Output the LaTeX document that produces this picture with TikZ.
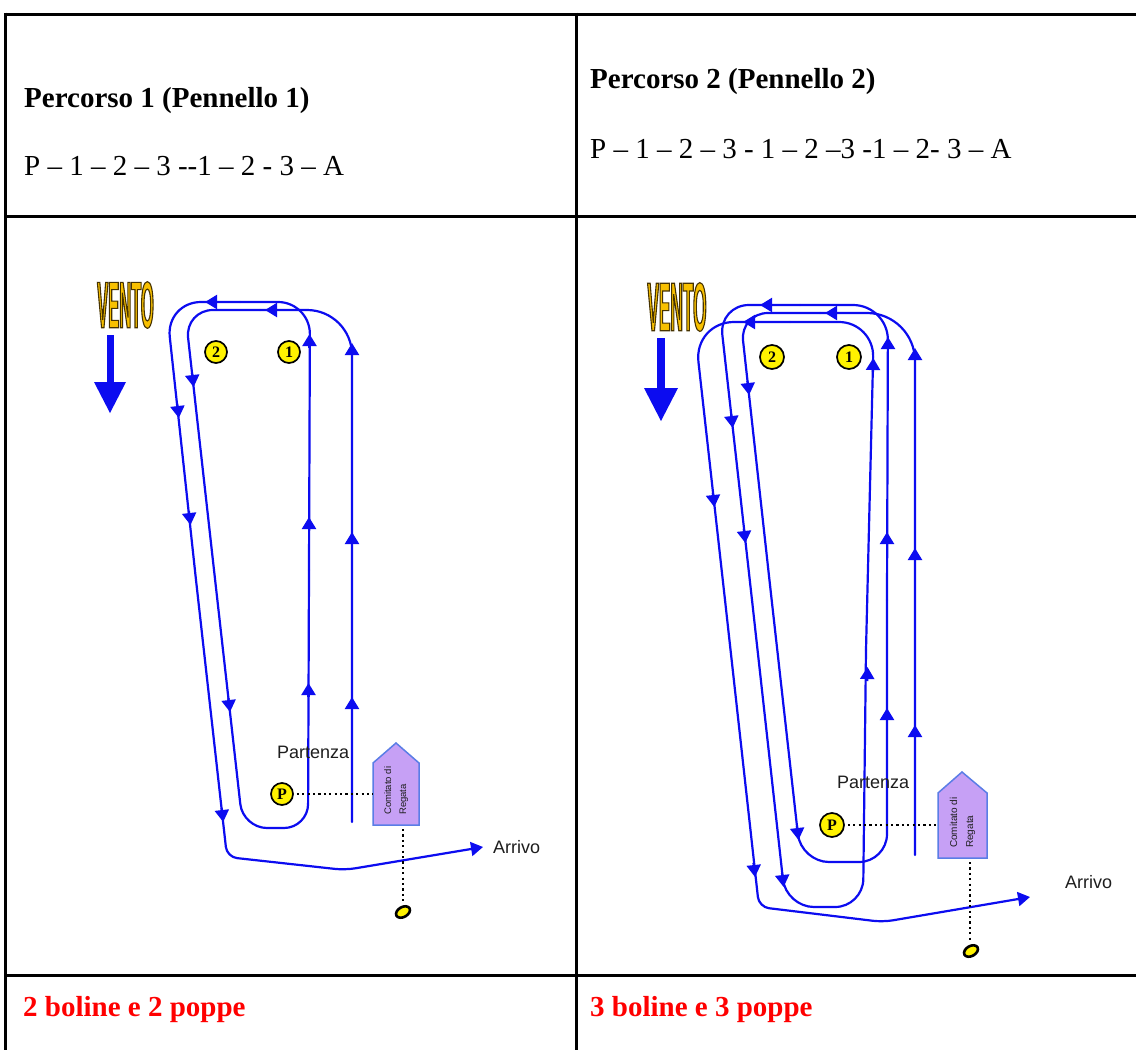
\documentclass[tikz,border=0pt]{standalone}
\usepackage{fontspec}
\setmainfont{Liberation Serif}
\setsansfont{Liberation Sans}
\newfontfamily\ventofont[FakeStretch=0.25]{Liberation Sans Bold}
\usetikzlibrary{arrows.meta}
\definecolor{rblue}{RGB}{12,12,240}
\definecolor{boatfill}{RGB}{198,160,245}
\definecolor{boatedge}{RGB}{90,125,230}
\definecolor{vgold}{RGB}{248,192,0}
\definecolor{txtgray}{RGB}{30,30,30}
\newcommand\ventotxt[1]{{\ventofont\fontsize{#1}{#1}\selectfont\color{vgold}\special{pdf:literal direct 2 Tr 1.1 w 0.28 0.2 0 RG}VENTO\special{pdf:literal direct 0 Tr}}}
\newcommand\tipat[2]{\draw[tipa] #1 -- #2;}
\tikzset{
  course/.style={rblue, line width=2.2pt, line cap=round, line join=round},
  tipa/.style={rblue, line width=2.2pt, -{Triangle[length=12pt,width=14pt]}},
  buoymark/.style={circle, draw=black, line width=1.7pt, fill=yellow, inner sep=0pt, font=\bfseries\fontsize{16}{16}\selectfont},
  dotline/.style={black, line width=2.2pt, dash pattern=on 2.2pt off 3.2pt},
  boat/.style={draw=boatedge, fill=boatfill, line width=1.5pt},
  cell/.style={anchor=base west, inner sep=0pt, font=\fontsize{29}{34}\selectfont},
  lbl/.style={anchor=base west, inner sep=0pt, text=txtgray, font=\sffamily\fontsize{18}{20}\selectfont},
  boattxt/.style={rotate=90, anchor=base west, inner sep=0pt, text=txtgray},
  grid/.style={black, line width=3pt},
  wind/.style={fill=rblue},
}
\begin{document}
\begin{tikzpicture}[x=1pt,y=-1pt]
\fill[white] (0,0) rectangle (1136,1050);
\useasboundingbox (0,0) rectangle (1136,1050);

% ---------------- table ----------------
\draw[grid] (5,14) -- (1136,14);
\draw[grid] (5,216) -- (1136,216);
\draw[grid] (5,975) -- (1136,975);
\draw[grid] (5,12.5) -- (5,1050);
\draw[grid] (576,12.5) -- (576,1050);

\node[cell, font=\bfseries\fontsize{29}{34}\selectfont] (h1) at (24,107) {Percorso 1 (Pennello 1)};
\node[cell] (s1) at (24,175) {P – 1 – 2 – 3 {-}{-}1 – 2 - 3 – A};
\node[cell, font=\bfseries\fontsize{29}{34}\selectfont] (h2) at (590,88) {Percorso 2 (Pennello 2)};
\node[cell] (s2) at (590,158) {P – 1 – 2 – 3 - 1 – 2 –3 -1 – 2- 3 – A};
\node[cell, text=red, font=\bfseries\fontsize{29}{34}\selectfont] (r1) at (23,1016) {2 boline e 2 poppe};
\node[cell, text=red, font=\bfseries\fontsize{29}{34}\selectfont] (r2) at (590,1016) {3 boline e 3 poppe};

% ================= LEFT DIAGRAM =================
\node[inner sep=0pt] (ventoL) at (125.5,305) {\ventotxt{66}};
\fill[wind] (106.5,335) rectangle (113.5,383);
\fill[wind] (94,382) -- (126,382) -- (110,413) -- cycle;

% course
\draw[course, rounded corners=45pt] (352,822) -- (352,310) -- (260,310);
\draw[course, rounded corners=28pt] (260,310) -- (185,310) -- (214,570);
\draw[course, rounded corners=24pt] (214,570) -- (243,828) -- (308,828) -- (309,570);
\draw[course, rounded corners=32pt] (309,570) -- (310,302) -- (240,302);
\draw[course, rounded corners=35pt] (240,302) -- (166,302) -- (196,580);
\draw[course, rounded corners=10pt, -{Triangle[length=12pt,width=14pt]}] (196,580) -- (227,857) -- (345,870) -- (483,847);

% arrow tips
\tipat{(352,357)}{(352,343)}
\tipat{(352,546)}{(352,532)}
\tipat{(352,711)}{(352,697)}
\tipat{(280,310)}{(265,310)}
\tipat{(192.0,373)}{(193.6,387)}
\tipat{(228.4,698)}{(230.0,712)}
\tipat{(308.5,697)}{(308.5,683)}
\tipat{(309,531)}{(309,517)}
\tipat{(309.5,348)}{(309.5,334)}
\tipat{(220,302)}{(205,302)}
\tipat{(177.2,404)}{(178.8,418)}
\tipat{(188.9,511)}{(190.5,525)}
\tipat{(221.6,808)}{(223.2,822)}

\node[buoymark, minimum size=22pt] (m2L) at (216,352) {2};
\node[buoymark, minimum size=22pt] (m1L) at (289,352) {1};
\node[buoymark, minimum size=22pt] (mPL) at (282,794) {P};

\node[lbl] (partL) at (277,758) {Partenza};
\node[lbl] (arrL) at (493,853) {Arrivo};

\draw[boat] (373,825) -- (373,763) -- (396,743) -- (419,763) -- (419,825) -- cycle;
\coordinate (boatLw) at (373,794);
\coordinate (boatLb) at (403,825);
\node[boattxt, font=\sffamily\fontsize{9.5}{10}\selectfont] (cdL) at (391,815) {Comitato di};
\node[boattxt, font=\sffamily\fontsize{9.5}{10}\selectfont] (rgL) at (406,815) {Regata};
\draw[dotline] (mPL.east) ++(3,0) -- (boatLw);
\draw[dotline] (boatLb) ++(0,4) -- (403,902);
\draw[black, line width=2.6pt, fill=yellow, rotate around={30:(403,912)}] (403,912) ellipse (7.5pt and 5pt);

% ================= RIGHT DIAGRAM =================
\node[inner sep=0pt] (ventoR) at (677,307) {\ventotxt{69}};
\fill[wind] (657.3,338) rectangle (664.7,389);
\fill[wind] (644,388) -- (678,388) -- (661,421) -- cycle;

% course
\draw[course, rounded corners=48pt] (915,855) -- (915,313) -- (820,313);
\draw[course, rounded corners=28pt] (820,313) -- (740,313) -- (770,585);
\draw[course, rounded corners=28pt] (770,585) -- (801,862) -- (887,862) -- (887,600);
\draw[course, rounded corners=35pt] (887,600) -- (888,305) -- (800,305);
\draw[course, rounded corners=30pt] (800,305) -- (719,305) -- (752,600);
\draw[course, rounded corners=28pt] (752,600) -- (786,907) -- (863,907) -- (866,650);
\draw[course, rounded corners=35pt] (866,650) -- (874,322) -- (790,322);
\draw[course, rounded corners=40pt] (790,322) -- (694,322) -- (725,600);
\draw[course, rounded corners=10pt, -{Triangle[length=12pt,width=14pt]}] (725,600) -- (759,907) -- (883,922) -- (1030,897);

% arrow tips
\tipat{(915,362)}{(915,348)}
\tipat{(915,562)}{(915,548)}
\tipat{(915,739)}{(915,725)}
\tipat{(840,313)}{(825,313)}
\tipat{(747.5,381)}{(749.1,395)}
\tipat{(796.9,826)}{(798.5,840)}
\tipat{(887,722)}{(887,708)}
\tipat{(887,546)}{(887,532)}
\tipat{(888,351)}{(888,337)}
\tipat{(775,305)}{(760,305)}
\tipat{(731.1,414)}{(732.7,428)}
\tipat{(743.8,529)}{(745.4,543)}
\tipat{(782.0,873)}{(783.6,887)}
\tipat{(867.2,681)}{(867.5,667)}
\tipat{(873.0,372)}{(873.3,358)}
\tipat{(758,322)}{(743,322)}
\tipat{(712.8,493)}{(714.3,507)}
\tipat{(753.5,863)}{(755.0,877)}

\node[buoymark, minimum size=24pt] (m2R) at (772,357) {2};
\node[buoymark, minimum size=24pt] (m1R) at (849,357) {1};
\node[buoymark, minimum size=24pt] (mPR) at (832,825) {P};

\node[lbl] (partR) at (837,788) {Partenza};
\node[lbl] (arrR) at (1065,888) {Arrivo};

\draw[boat] (938,858) -- (938,793) -- (962,772) -- (987,793) -- (987,858) -- cycle;
\coordinate (boatRw) at (938,825);
\coordinate (boatRb) at (970,858);
\node[boattxt, font=\sffamily\fontsize{10}{11}\selectfont] (cdR) at (957,848) {Comitato di};
\node[boattxt, font=\sffamily\fontsize{10}{11}\selectfont] (rgR) at (973,848) {Regata};
\draw[dotline] (mPR.east) ++(3,0) -- (boatRw);
\draw[dotline] (boatRb) ++(0,4) -- (970,940);
\draw[black, line width=2.6pt, fill=yellow, rotate around={30:(971,951)}] (971,951) ellipse (7.5pt and 5pt);
\end{tikzpicture}
\end{document}
